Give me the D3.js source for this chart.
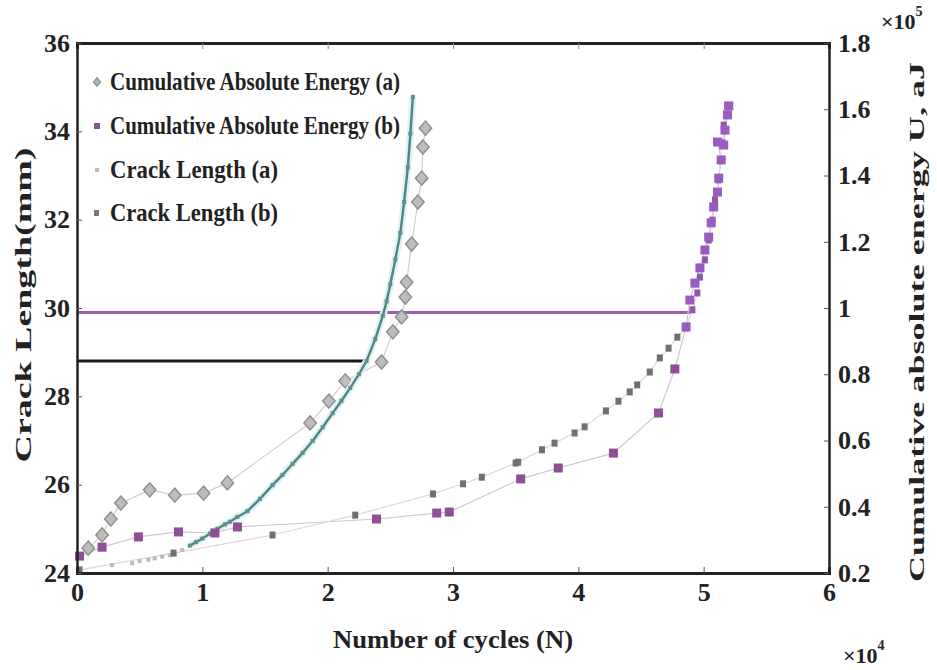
<!DOCTYPE html>
<html><head><meta charset="utf-8">
<script src="https://cdn.jsdelivr.net/npm/d3@7"></script>
<style>body{margin:0;background:#fff}svg{display:block}text{font-family:"Liberation Serif","Times New Roman",Times,serif;font-weight:bold;fill:#222}</style>
</head><body><svg id="c" width="937" height="670"></svg>
<script>
// Cycles in units of 10^4, crack length in mm, energy in units of 10^5 aJ
const xTicks = [0,1,2,3,4,5,6];
const yLeftTicks = [24,26,28,30,32,34,36];
const yRightTicks = [0.2,0.4,0.6,0.8,1,1.2,1.4,1.6,1.8];

const caeA_N = [0.09,0.20,0.27,0.35,0.58,0.78,1.01,1.20,1.86,2.01,2.14,2.43,2.52,2.59,2.62,2.63,2.67,2.72,2.75,2.76,2.78];
const caeA_E = [0.275,0.315,0.363,0.411,0.451,0.435,0.441,0.472,0.653,0.719,0.780,0.837,0.928,0.973,1.033,1.078,1.193,1.320,1.392,1.486,1.543];

const caeB_N = [0.02,0.20,0.49,0.81,1.10,1.28,2.39,2.87,2.97,3.54,3.84,4.28,4.64,4.77,4.86,4.89,4.93,4.97,5.01,5.04,5.06,5.08,5.11,5.12,5.14,5.11,5.16,5.17,5.19,5.20];
const caeB_E = [0.251,0.278,0.309,0.324,0.321,0.339,0.363,0.381,0.384,0.484,0.517,0.562,0.683,0.816,0.943,1.024,1.075,1.121,1.175,1.214,1.257,1.305,1.350,1.392,1.447,1.501,1.492,1.537,1.583,1.610];

const crackA_N = [0.02,0.28,0.44,0.50,0.57,0.62,0.68,0.74,0.78,0.84,0.90,0.95,1.00,1.06,1.12,1.18,1.22,1.28,1.36,1.46,1.56,1.64,1.72,1.80,1.88,1.96,2.04,2.11,2.18,2.25,2.31,2.38,2.44,2.47,2.50,2.54,2.58,2.61,2.64,2.66,2.68];
const crackA_L = [24.05,24.18,24.22,24.27,24.30,24.33,24.37,24.40,24.43,24.52,24.62,24.70,24.78,24.89,25.00,25.10,25.16,25.27,25.40,25.68,25.99,26.22,26.47,26.72,26.99,27.30,27.62,27.90,28.19,28.50,28.80,29.30,29.82,30.15,30.54,31.10,31.70,32.40,33.19,33.95,34.78];

const crackB_N = [0.02,0.77,1.56,2.22,2.84,3.08,3.23,3.50,3.52,3.71,3.81,3.97,4.05,4.22,4.32,4.41,4.47,4.57,4.65,4.72,4.79,4.86,4.91,4.95,4.97,5.01,5.04,5.07,5.09,5.12,5.13,5.15,5.16,5.19];
const crackB_L = [24.07,24.45,24.86,25.31,25.79,26.02,26.17,26.49,26.51,26.79,26.94,27.17,27.31,27.67,27.89,28.10,28.26,28.55,28.87,29.09,29.34,29.55,29.96,30.34,30.70,31.09,31.54,31.99,32.45,32.90,33.35,33.74,34.14,34.57];

const refLines = [{L:28.8, N1:2.31, color:"#1a1a1a"},{L:29.9, N1:4.89, color:"#9a5fb0"}];

const legendLabels = ["Cumulative Absolute Energy (a)","Cumulative Absolute Energy (b)","Crack Length (a)","Crack Length (b)"];

const svg = d3.select("#c");
const x = d3.scaleLinear().domain([0,6]).range([77,829]);
const yL = d3.scaleLinear().domain([24,36]).range([573,43]);
const yR = d3.scaleLinear().domain([0.2,1.8]).range([573,43]);

// reference lines
refLines.forEach(r=>{
  svg.append("line").attr("x1",x(0)).attr("x2",x(r.N1)).attr("y1",yL(r.L)).attr("y2",yL(r.L))
    .attr("stroke",r.color).attr("stroke-width",3);
});

const zipA = caeA_N.map((n,i)=>[n,caeA_E[i]]);
const zipB = caeB_N.map((n,i)=>[n,caeB_E[i]]);
const zipCA = crackA_N.map((n,i)=>[n,crackA_L[i]]);
const zipCB = crackB_N.map((n,i)=>[n,crackB_L[i]]);

const lineR = d3.line().x(d=>x(d[0])).y(d=>yR(d[1]));
const lineL = d3.line().x(d=>x(d[0])).y(d=>yL(d[1]));

svg.append("path").attr("d",lineR(zipA)).attr("fill","none").attr("stroke","#cfcfcf").attr("stroke-width",1.2);
svg.append("path").attr("d",lineR(zipB)).attr("fill","none").attr("stroke","#d2c4d8").attr("stroke-width",1.2);
svg.append("path").attr("d",lineL(zipCB)).attr("fill","none").attr("stroke","#e6d2e6").attr("stroke-width",1.2);

const diamond = d3.symbol().type(d3.symbolDiamond).size(80);
svg.append("g").selectAll("path").data(zipA).join("path")
  .attr("transform",d=>`translate(${x(d[0])},${yR(d[1])}) scale(1.3,0.85)`)
  .attr("d",diamond).attr("fill","#bdbdbd").attr("stroke","#8f8f8f").attr("stroke-width",1.3);

// crack (a): halo + teal curve + dots
const upperA = zipCA.filter(d=>d[0]>=0.9);
svg.append("path").attr("d",lineL(upperA)).attr("fill","none").attr("stroke","#dcf2f2").attr("stroke-width",7);
svg.append("path").attr("d",lineL(upperA)).attr("fill","none").attr("stroke","#4f8585").attr("stroke-width",2.4);
svg.append("g").selectAll("rect").data(zipCA).join("rect")
  .attr("x",d=>x(d[0])-2).attr("y",d=>yL(d[1])-2).attr("width",4).attr("height",4)
  .attr("fill",d=>d[0]<0.9?"#bcbcbc":"#5f8f8f");

// crack (b) dark squares
svg.append("g").selectAll("rect").data(zipCB).join("rect")
  .attr("x",d=>x(d[0])-3).attr("y",d=>yL(d[1])-3.5).attr("width",6).attr("height",7)
  .attr("fill",d=>d[0]>4.85?"#8c5aa8":"#707070");

// CAE (b) purple squares
svg.append("g").selectAll("rect").data(zipB).join("rect")
  .attr("x",d=>x(d[0])-4.5).attr("y",d=>yR(d[1])-4.5).attr("width",9).attr("height",9)
  .attr("fill",d=>d[0]>4.85?"#9a5cc0":"#8e4f94");

// axes box
const axG = svg.append("g");
const xb = d3.axisBottom(x).tickValues(xTicks).tickSize(-6).tickPadding(10).tickFormat(d3.format("d"));
axG.append("g").attr("transform","translate(0,573)").call(xb).call(g=>{
  g.select(".domain").attr("stroke","#222").attr("stroke-width",3);
  g.selectAll(".tick line").attr("stroke","#555");
  g.selectAll("text").attr("font-size",26).attr("fill","#222");
});
const xt = d3.axisTop(x).tickValues(xTicks).tickSize(-6).tickFormat("");
axG.append("g").attr("transform","translate(0,43)").call(xt).call(g=>{
  g.select(".domain").attr("stroke","#222").attr("stroke-width",3);
  g.selectAll(".tick line").attr("stroke","#888");
});
const yl = d3.axisLeft(yL).tickValues(yLeftTicks).tickSize(-5).tickPadding(7).tickFormat(d3.format("d"));
axG.append("g").attr("transform","translate(77,0)").call(yl).call(g=>{
  g.select(".domain").attr("stroke","#222").attr("stroke-width",2.5);
  g.selectAll(".tick line").attr("stroke","#555");
  g.selectAll("text").attr("font-size",26).attr("fill","#222");
});
const yr = d3.axisRight(yR).tickValues(yRightTicks).tickSize(-5).tickPadding(9).tickFormat(d=>d3.format("")(+d.toFixed(1)));
axG.append("g").attr("transform","translate(829,0)").call(yr).call(g=>{
  g.select(".domain").attr("stroke","#222").attr("stroke-width",2.5);
  g.selectAll(".tick line").attr("stroke","#555");
  g.selectAll("text").attr("font-size",26).attr("fill","#222");
});

// axis titles
svg.append("text").attr("transform","translate(31,305) rotate(-90)").attr("text-anchor","middle")
  .attr("font-size",24).attr("textLength",315).attr("lengthAdjust","spacingAndGlyphs").text("Crack Length(mm)");
svg.append("text").attr("transform","translate(924,322) rotate(-90)").attr("text-anchor","middle")
  .attr("font-size",22).attr("textLength",520).attr("lengthAdjust","spacingAndGlyphs").text("Cumulative absolute energy U, aJ");
svg.append("text").attr("x",453).attr("y",648).attr("text-anchor","middle")
  .attr("font-size",25).attr("textLength",240).attr("lengthAdjust","spacingAndGlyphs").text("Number of cycles (N)");

// multipliers
const m4 = svg.append("text").attr("x",843).attr("y",663).attr("font-size",22).attr("font-weight","normal");
m4.append("tspan").text("×10");
m4.append("tspan").attr("dy",-13).attr("font-size",14).text("4");
const m5 = svg.append("text").attr("x",881).attr("y",29).attr("font-size",22).attr("font-weight","normal");
m5.append("tspan").text("×10");
m5.append("tspan").attr("dy",-13).attr("font-size",14).text("5");

// legend
const lg = svg.append("g");
const lgY = [82,126,170,213];
const lgLen = [290,290,168,168];
legendLabels.forEach((t,i)=>{
  const cy = lgY[i];
  if(i===0) lg.append("path").attr("transform",`translate(97,${cy}) scale(1.2,0.85)`).attr("d",d3.symbol().type(d3.symbolDiamond).size(30)()).attr("fill","#b4b4b4").attr("stroke","#8a8a8a");
  if(i===1) lg.append("rect").attr("x",94).attr("y",cy-3).attr("width",6).attr("height",6).attr("fill","#8f4f98");
  if(i===2) lg.append("rect").attr("x",95).attr("y",cy-2).attr("width",4).attr("height",4).attr("fill","#bcbcbc");
  if(i===3) lg.append("rect").attr("x",94).attr("y",cy-3).attr("width",5).attr("height",6).attr("fill","#777");
  lg.append("text").attr("x",110).attr("y",cy+8).attr("font-size",26)
    .attr("textLength",lgLen[i]).attr("lengthAdjust","spacingAndGlyphs").text(t);
});
</script></body></html>
